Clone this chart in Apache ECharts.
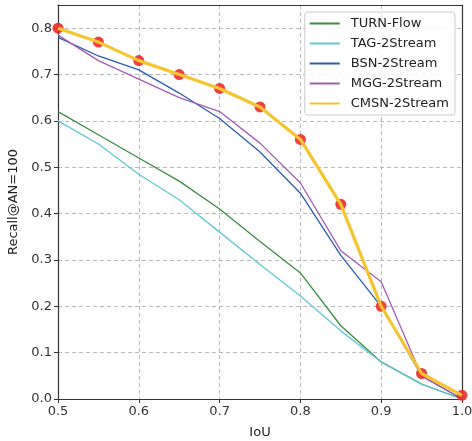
<!DOCTYPE html>
<html><head><meta charset="utf-8">
<script src="https://cdn.jsdelivr.net/npm/echarts@6/dist/echarts.min.js"></script>
<style>html,body{margin:0;padding:0;background:#fff}#c{width:472px;height:441px}</style>
</head><body><div id="c"></div>
<script>
var iou = [0.5, 0.55, 0.6, 0.65, 0.7, 0.75, 0.8, 0.85, 0.9, 0.95, 1.0];
var turnFlow = [0.62, 0.57, 0.52, 0.47, 0.41, 0.34, 0.272, 0.158, 0.08, 0.032, 0.0];
var tag2Stream = [0.60, 0.55, 0.485, 0.43, 0.36, 0.29, 0.222, 0.147, 0.08, 0.032, 0.0];
var bsn2Stream = [0.78, 0.74, 0.71, 0.66, 0.605, 0.533, 0.444, 0.31, 0.2, 0.05, 0.0];
var mgg2Stream = [0.785, 0.73, 0.69, 0.65, 0.62, 0.552, 0.466, 0.32, 0.253, 0.05, 0.0];
var cmsn2Stream = [0.80, 0.77, 0.73, 0.70, 0.67, 0.63, 0.56, 0.42, 0.20, 0.055, 0.008];
var names = ['TURN-Flow', 'TAG-2Stream', 'BSN-2Stream', 'MGG-2Stream', 'CMSN-2Stream'];
var yTicks = [0.0, 0.1, 0.2, 0.3, 0.4, 0.5, 0.6, 0.7, 0.8];
var xTicks = [0.5, 0.6, 0.7, 0.8, 0.9, 1.0];

function pairs(v){ return iou.map(function(x,i){ return [x, v[i]]; }); }
var font = 'DejaVu Sans';
var chart = echarts.init(document.getElementById('c'), null, {renderer:'canvas'});
function lineS(name, data, color, w, z){
  return {name:name, type:'line', data:pairs(data), showSymbol:false, symbol:'none',
    lineStyle:{color:color, width:w}, itemStyle:{color:color}, z:z, animation:false};
}
function fmt(list){ return function(v){ for (var i=0;i<list.length;i++){ if (Math.abs(v-list[i])<1e-6) return list[i].toFixed(1);} return ''; }; }
chart.setOption({
  animation:false,
  grid:{left:58, right:10, top:5, bottom:42, containLabel:false, outerBoundsMode:'none'},
  legend:{
    data:names, orient:'vertical', right:17, top:12, itemGap:7, itemWidth:30, itemHeight:13,
    padding:[5,6,5,5], borderColor:'#ccc', borderWidth:1, borderRadius:3, backgroundColor:'rgba(255,255,255,0.85)',
    icon:'path://M0,5 L30,5 L30,7 L0,7 Z',
    textStyle:{fontFamily:font, fontSize:13, color:'#222', padding:[0,0,0,6]}
  },
  xAxis:[{type:'value', min:0.5, max:1.0, interval:0.1,
    name:'IoU', nameLocation:'middle', nameGap:27, nameTextStyle:{fontFamily:font, fontSize:13, color:'#222'},
    axisLine:{show:true, onZero:false, lineStyle:{color:'#333', width:1.2}},
    axisTick:{show:true, length:4, lineStyle:{color:'#333'}},
    axisLabel:{fontFamily:font, fontSize:13, color:'#333', margin:6, formatter:fmt(xTicks)},
    splitLine:{show:true, lineStyle:{color:'#bbb', type:[4,3], width:1}}
  },{type:'value', position:'top', min:0.5, max:1.0, interval:0.1,
    axisLine:{show:true, onZero:false, lineStyle:{color:'#333', width:1.2}},
    axisTick:{show:false}, axisLabel:{show:false}, splitLine:{show:false}
  }],
  yAxis:[{type:'value', min:0, max:0.85, interval:0.1,
    name:'Recall@AN=100', nameLocation:'middle', nameGap:38, nameTextStyle:{fontFamily:font, fontSize:13, color:'#222'},
    axisLine:{show:true, onZero:false, lineStyle:{color:'#333', width:1.2}},
    axisTick:{show:true, length:4, lineStyle:{color:'#333'}},
    axisLabel:{fontFamily:font, fontSize:13, color:'#333', margin:6, showMaxLabel:false, formatter:fmt(yTicks)},
    splitLine:{show:true, lineStyle:{color:'#bbb', type:[4,3], width:1}}
  },{type:'value', position:'right', min:0, max:0.85, interval:0.1,
    axisLine:{show:true, onZero:false, lineStyle:{color:'#333', width:1.2}},
    axisTick:{show:false}, axisLabel:{show:false}, splitLine:{show:false}
  }],
  series:[
    lineS(names[0], turnFlow, '#3d8b45', 1.3, 3),
    lineS(names[1], tag2Stream, '#5fcad6', 1.3, 3),
    lineS(names[2], bsn2Stream, '#2a5db0', 1.3, 3),
    lineS(names[3], mgg2Stream, '#a45db5', 1.3, 3),
    {name:'cmsnDots', type:'scatter', data:pairs(cmsn2Stream), symbol:'circle', symbolSize:11,
      itemStyle:{color:'#ec2b2b', opacity:0.9}, z:4, animation:false},
    lineS(names[4], cmsn2Stream, '#f6c42f', 3.2, 5)
  ]
});
</script></body></html>
